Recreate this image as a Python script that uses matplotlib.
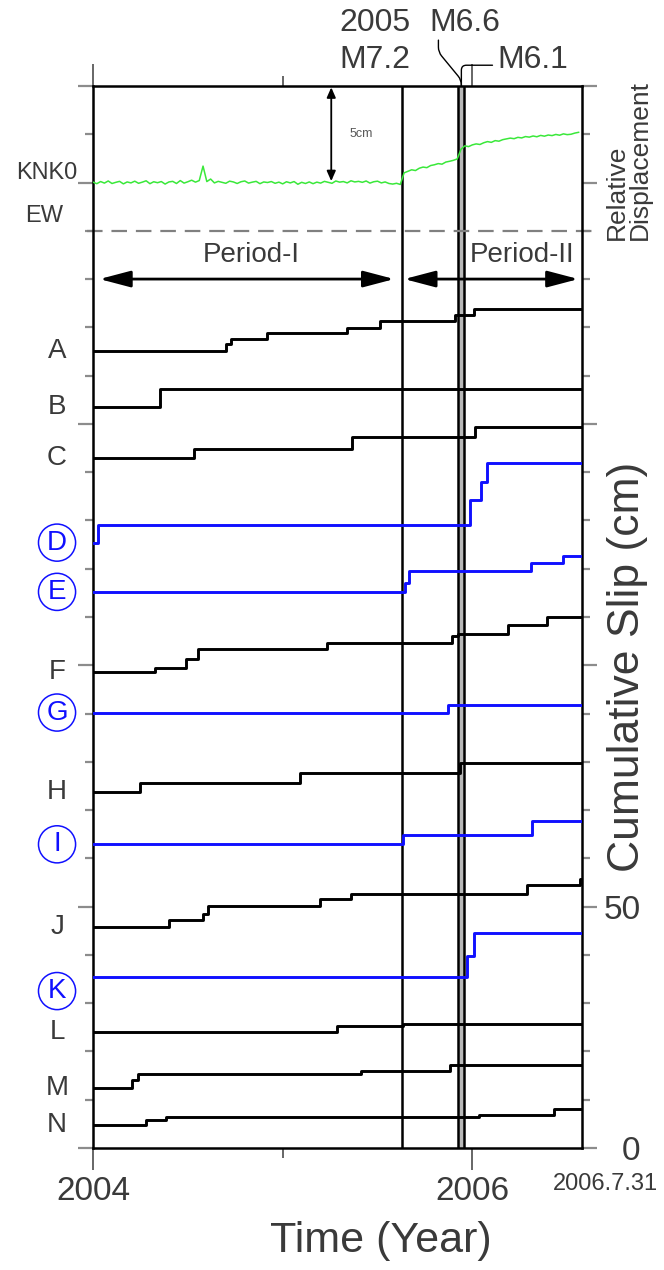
import numpy as np
import matplotlib
matplotlib.use("Agg")
import matplotlib.pyplot as plt
import matplotlib.transforms as mtransforms

plt.rcParams['font.family'] = ['Liberation Sans', 'DejaVu Sans']

# earthquake times (decimal year)
t_m72 = 2005.628   # 2005-08-16 M7.2
t_m66 = 2005.926   # 2005-12-02 M6.6
t_m61 = 2005.958   # 2005-12-17 M6.1
t_end = 2006.578   # 2006-07-31

# cumulative slip of each repeater group (cm, stacked offsets), step times in decimal year
A_t = [2004.0, 2004.70, 2004.73, 2004.917, 2005.341, 2005.513, 2005.911, 2006.007]
A_v = [165.0, 166.6, 167.5, 168.9, 169.9, 171.3, 172.5, 173.7]
B_t = [2004.0, 2004.354]
B_v = [153.6, 157.3]
C_t = [2004.0, 2004.530, 2005.364, 2006.012]
C_v = [142.9, 144.8, 147.2, 149.4]
D_t = [2004.0, 2004.025, 2005.989, 2006.046, 2006.078]
D_v = [125.4, 129.0, 134.3, 138.0, 141.9]
E_t = [2004.0, 2005.645, 2005.665, 2006.309, 2006.480]
E_v = [115.2, 117.0, 119.5, 121.2, 122.7]
F_t = [2004.0, 2004.325, 2004.492, 2004.555, 2005.234, 2005.895, 2005.922, 2006.186, 2006.391]
F_v = [98.6, 99.5, 101.2, 103.3, 104.7, 106.1, 106.5, 108.3, 109.9]
G_t = [2004.0, 2005.873]
G_v = [90.2, 91.7]
H_t = [2004.0, 2004.247, 2005.091, 2005.933]
H_v = [73.7, 75.7, 77.6, 79.7]
I_t = [2004.0, 2005.636, 2006.313]
I_v = [62.9, 64.9, 67.7]
J_t = [2004.0, 2004.403, 2004.582, 2004.604, 2005.196, 2005.359, 2006.288, 2006.566]
J_v = [45.8, 47.2, 48.5, 50.1, 51.6, 52.7, 54.4, 55.8]
K_t = [2004.0, 2005.972, 2006.007]
K_v = [35.5, 39.8, 44.5]
L_t = [2004.0, 2005.285, 2005.632]
L_v = [24.1, 25.3, 25.7]
M_t = [2004.0, 2004.208, 2004.235, 2005.413, 2005.882]
M_v = [12.4, 14.1, 15.4, 15.9, 17.1]
N_t = [2004.0, 2004.280, 2004.387, 2006.034, 2006.432]
N_v = [4.8, 5.8, 6.5, 6.8, 8.0]

groups = ['A', 'B', 'C', 'D', 'E', 'F', 'G', 'H', 'I', 'J', 'K', 'L', 'M', 'N']
series = [(A_t, A_v), (B_t, B_v), (C_t, C_v), (D_t, D_v), (E_t, E_v), (F_t, F_v), (G_t, G_v),
          (H_t, H_v), (I_t, I_v), (J_t, J_v), (K_t, K_v), (L_t, L_v), (M_t, M_v), (N_t, N_v)]
highlighted = ['D', 'E', 'G', 'I', 'K']

# KNK0 GPS station, EW component, relative displacement (cm), sampled every 0.02 yr
gps_t = np.round(np.arange(2004.0, 2006.565, 0.02), 2)
gps_ew = [0.02, -0.06, 0.05, -0.03, 0.08, -0.05, 0.01, 0.06, -0.07, 0.03,
          -0.02, 0.07, -0.04, 0.02, 0.09, -0.06, 0.04, -0.01, 0.05, -0.08,
          0.03, 0.06, -0.05, 0.10, -0.03, 0.04, 0.12, 0.02, 0.10, 0.85,
          0.05, 0.18, -0.02, 0.06, 0.01, -0.04, 0.07, 0.03, -0.05, 0.04,
          0.08, -0.03, 0.02, 0.06, -0.06, 0.03, 0.00, 0.05, -0.04, 0.02,
          -0.07, 0.04, -0.02, 0.05, -0.09, 0.01, -0.05, 0.03, -0.06, 0.02,
          -0.03, 0.06, 0.01, -0.04, 0.08, 0.02, 0.05, -0.02, 0.09, 0.03,
          0.06, 0.01, 0.08, -0.03, 0.04, 0.07, -0.02, 0.03, -0.05, -0.08,
          -0.04, -0.10, 0.50, 0.58, 0.66, 0.62, 0.74, 0.80, 0.77, 0.88,
          0.92, 0.98, 0.95, 1.06, 1.10, 1.15, 1.22, 1.72, 1.90, 1.86,
          1.95, 2.00, 1.97, 2.06, 2.12, 2.08, 2.17, 2.14, 2.22, 2.26,
          2.30, 2.27, 2.34, 2.31, 2.38, 2.35, 2.41, 2.37, 2.44, 2.40,
          2.46, 2.43, 2.49, 2.45, 2.52, 2.48, 2.50, 2.56, 2.60]
gps_base = 200      # where KNK0 sits on the slip axis
gps_scale = 4       # slip-axis units per cm of displacement

txt = '#3a3a3a'
blue = '#1010ff'

fig = plt.figure(figsize=(6.64, 12.70), dpi=100)
ax = fig.add_axes([0.1401, 0.0961, 0.7364, 0.8362])
ax.set_xlim(2004.0, t_end)
ax.set_ylim(0, 220)

# earthquake markers
ax.axvspan(t_m66, t_m61, color='0.72', lw=0, zorder=1)
for t in [t_m72, t_m66, t_m61]:
    ax.axvline(t, color='k', lw=1.8, zorder=2)

# GPS trace and divider
ax.plot(gps_t, gps_base + gps_scale * np.array(gps_ew), color='#3ae83a', lw=1.1, zorder=3)
ax.axhline(190, xmin=-0.012, xmax=1.03, color='0.5', lw=1.6, ls=(0, (7, 4)), clip_on=False, zorder=2)
ax.annotate('', xy=(2005.256, gps_base + gps_scale * 5), xytext=(2005.256, gps_base),
            arrowprops=dict(arrowstyle='<|-|>,head_length=0.5,head_width=0.22', mutation_scale=12,
                            color='k', lw=1.3, shrinkA=1, shrinkB=1))
ax.text(2005.414, 210, '5cm', fontsize=9, color='0.35', ha='center', va='center')

lab = mtransforms.blended_transform_factory(ax.transAxes, ax.transData)
ax.text(-0.094, 202, 'KNK0', transform=lab, fontsize=17, color=txt, ha='center', va='center')
ax.text(-0.100, 193, 'EW', transform=lab, fontsize=17, color=txt, ha='center', va='center')

# period arrows
arrow_kw = dict(arrowstyle='<|-|>,head_length=1.9,head_width=0.5', mutation_scale=10,
                color='k', lw=2, shrinkA=0, shrinkB=0)
ax.annotate('', xy=(2005.588, 180), xytext=(2004.034, 180), arrowprops=arrow_kw)
ax.annotate('', xy=(2006.559, 180), xytext=(2005.641, 180), arrowprops=arrow_kw)
ax.text(2004.835, 185, 'Period-I', fontsize=20, color=txt, ha='center', va='center')
ax.text(2006.264, 185, 'Period-II', fontsize=20, color=txt, ha='center', va='center')

# cumulative slip steps
for name, (t, v) in zip(groups, series):
    c = blue if name in highlighted else 'k'
    ax.step(t + [t_end], v + [v[-1]], where='post', color=c, lw=2.1, zorder=4)
    y = v[0] - 3 if name == 'K' else v[0]
    if name in highlighted:
        ax.text(-0.0736, y, name, transform=lab, fontsize=20, color=blue, ha='center', va='center',
                bbox=dict(boxstyle='circle,pad=0.2', fc='none', ec=blue, lw=1.1))
    else:
        ax.text(-0.0736, y, name, transform=lab, fontsize=20, color=txt, ha='center', va='center')

# earthquake labels above the frame
ax.text(t_m72 + 0.045, 233.1, '2005', fontsize=23, color=txt, ha='right', va='center', clip_on=False)
ax.text(t_m72 + 0.045, 225.3, 'M7.2', fontsize=23, color=txt, ha='right', va='center', clip_on=False)
ax.text(2005.958, 233.1, 'M6.6', fontsize=23, color=txt, ha='center', va='center', clip_on=False)
ax.text(2006.132, 225.3, 'M6.1', fontsize=23, color=txt, ha='left', va='center', clip_on=False)
t_mid = (t_m66 + t_m61) / 2
ax.annotate('', xy=(t_mid, 220), xytext=(2005.821, 229.5), annotation_clip=False,
            arrowprops=dict(arrowstyle='-', color='k', lw=1,
                            connectionstyle='arc,angleA=-90,armA=12,angleB=90,armB=6,rad=5',
                            shrinkA=0, shrinkB=0))
ax.annotate('', xy=(t_mid, 220), xytext=(2006.106, 224.3), annotation_clip=False,
            arrowprops=dict(arrowstyle='-', color='k', lw=1,
                            connectionstyle='angle,angleA=180,angleB=90,rad=5',
                            shrinkA=0, shrinkB=0))

# axes styling
for s in ax.spines.values():
    s.set_linewidth(1.8)
    s.set_color('k')
ax.set_xticks([2004, 2006], labels=['2004', '2006'])
ax.set_xticks([2005], minor=True)
ax.set_yticks([0, 50, 100, 150, 200, 220], labels=['0', '50', '', '', '', ''])
ax.set_yticks(np.arange(10, 220, 10), minor=True)
ax.tick_params(axis='x', which='major', direction='out', length=16, width=1.2, color='0.3',
               top=True, bottom=True, labelsize=24, labelcolor=txt, pad=4)
ax.tick_params(axis='x', which='minor', direction='out', length=7, width=1.2, color='0.3',
               top=True, bottom=True)
ax.tick_params(axis='y', which='major', direction='out', length=11, width=1.6, color='0.55',
               left=True, right=True, labelleft=False, labelright=True,
               labelsize=24, labelcolor=txt, pad=31)
ax.tick_params(axis='y', which='minor', direction='out', length=5.5, width=1.6, color='0.55',
               left=True, right=True)
for tick in ax.yaxis.get_major_ticks():
    tick.label2.set_horizontalalignment('right')

ax.text(1.047, -0.034, '2006.7.31', transform=ax.transAxes, fontsize=17, color=txt,
        ha='center', va='center')
ax.text(0.589, -0.0876, 'Time (Year)', transform=ax.transAxes, fontsize=31, color=txt,
        ha='center', va='center')
ax.text(1.094, 99.6, 'Cumulative Slip (cm)', transform=lab, fontsize=32, color=txt,
        rotation=90, ha='center', va='center')
ax.text(1.095, 188, 'Relative\nDisplacement', transform=lab, fontsize=19, color=txt,
        rotation=90, ha='center', va='bottom', multialignment='left', linespacing=0.95)

fig.savefig('out.png', dpi=100)
